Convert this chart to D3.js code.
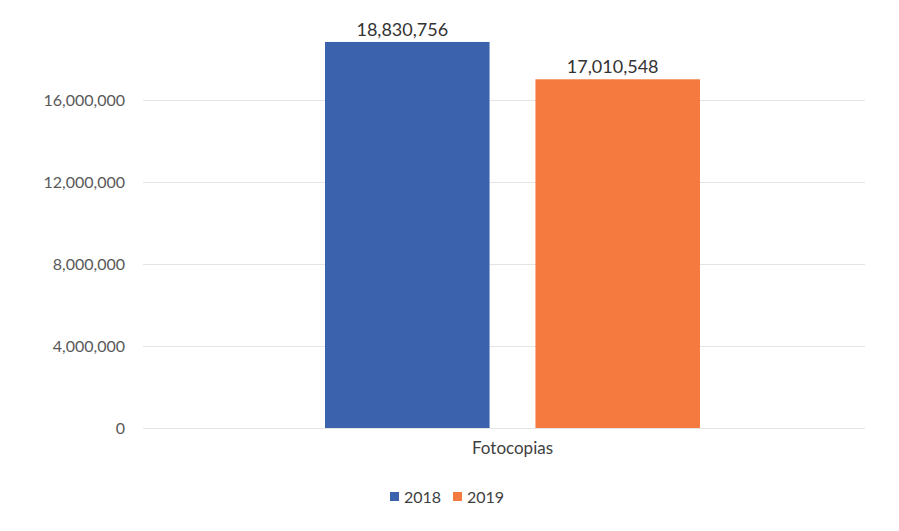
<!DOCTYPE html>
<html>
<head>
<meta charset="utf-8">
<script src="https://cdn.jsdelivr.net/npm/d3@7"></script>
<style>
  body { margin: 0; background: #fff; }
  text { font-family: Lato, "Open Sans", sans-serif; }
</style>
</head>
<body>
<main></main>
<script>
const categories = ["Fotocopias"];
const series = ["2018", "2019"];
const values2018 = [18830756];
const values2019 = [17010548];
const yTicks = [0, 4000000, 8000000, 12000000, 16000000];
const colors = ["#3b63ad", "#f47a3f"];

const w = 899, h = 531;
const plot = {left: 143, right: 865, top: 18, bottom: 428};

const rows = categories.map((c, i) => ({
  category: c,
  values: [
    {key: series[0], value: values2018[i]},
    {key: series[1], value: values2019[i]}
  ]
}));

const svg = d3.select("main").append("svg")
  .attr("width", w)
  .attr("height", h);

const y = d3.scaleLinear()
  .domain([0, 20000000])
  .range([plot.bottom, plot.top]);

const x0 = d3.scaleBand()
  .domain(categories)
  .range([160, 865]);

const x1 = d3.scaleBand()
  .domain(series)
  .range([-187.5, 187.5])
  .paddingInner(0.218)
  .paddingOuter(0);

const color = d3.scaleOrdinal().domain(series).range(colors);

// gridlines + y labels
const yAxis = d3.axisLeft(y)
  .tickValues(yTicks)
  .tickFormat(d3.format(","))
  .tickSize(-(plot.right - plot.left))
  .tickPadding(18);

const gy = svg.append("g")
  .attr("transform", "translate(" + plot.left + ",0)")
  .call(yAxis);
gy.select(".domain").remove();
gy.selectAll("line").attr("stroke", "#e4e4e4").attr("stroke-width", 1.2);
gy.selectAll("text")
  .attr("fill", "#595959")
  .style("font-size", "16px");

// bars
const groups = svg.selectAll(".grp")
  .data(rows)
  .enter()
  .append("g")
  .attr("class", "grp")
  .attr("transform", (d) => "translate(" + (x0(d.category) + x0.bandwidth() / 2) + ",0)");

groups.selectAll("rect")
  .data((d) => d.values)
  .enter()
  .append("rect")
  .attr("x", (d) => x1(d.key))
  .attr("y", (d) => y(d.value))
  .attr("width", x1.bandwidth())
  .attr("height", (d) => y(0) - y(d.value))
  .attr("fill", (d) => color(d.key));

groups.selectAll(".lbl")
  .data((d) => d.values)
  .enter()
  .append("text")
  .attr("class", "lbl")
  .attr("x", (d) => x1(d.key) + x1.bandwidth() / 2 - 5)
  .attr("y", (d) => y(d.value) - 6)
  .attr("text-anchor", "middle")
  .attr("fill", "#333")
  .style("font-size", "18px")
  .text((d) => d3.format(",")(d.value));

// x axis label
const xAxis = d3.axisBottom(x0).tickSize(0).tickPadding(14);
const gx = svg.append("g")
  .attr("transform", "translate(0," + plot.bottom + ")")
  .call(xAxis);
gx.select(".domain").remove();
gx.selectAll("text")
  .attr("fill", "#404040")
  .style("font-size", "17px");

// legend
const legend = svg.append("g")
  .attr("transform", "translate(390,497)");
const item = legend.selectAll("g")
  .data(series)
  .enter()
  .append("g")
  .attr("transform", (d, i) => "translate(" + (i * 63) + ",0)");
item.append("rect")
  .attr("x", 0)
  .attr("y", -5)
  .attr("width", 9)
  .attr("height", 9)
  .attr("fill", (d) => color(d));
item.append("text")
  .attr("x", 14)
  .attr("y", 0)
  .attr("dy", "0.35em")
  .attr("fill", "#404040")
  .style("font-size", "16px")
  .text((d) => d);
</script>
</body>
</html>
